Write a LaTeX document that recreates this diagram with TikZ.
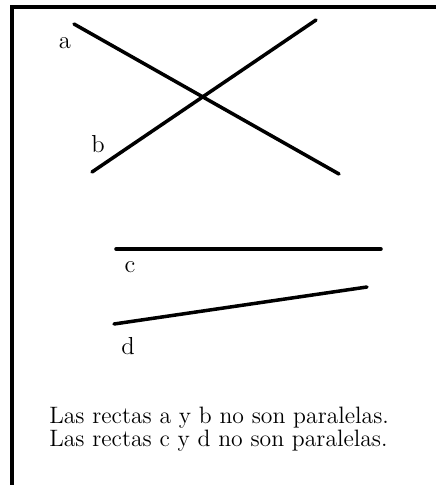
\documentclass[tikz,border=0pt]{standalone}
\usepackage{tikz}
\usetikzlibrary{positioning}

\begin{document}
\begin{tikzpicture}[
				x=0.02cm, y=-0.02cm,
				recta/.style={line width=2pt, line cap=round},
				marco/.style={line width=1.8pt},
				etiqueta/.style={font=\fontsize{14}{14}\selectfont, inner sep=0pt},
				texto/.style={font=\fontsize{13.5}{13.2}\selectfont, align=left, inner sep=0pt}
				]
				
				\useasboundingbox (0,0) rectangle (436,485);
				
				% marco
				\coordinate (esq) at (12,7);
				\coordinate (der) at (436,7);
				\coordinate (abajo) at (12,485);
				\draw[marco] (abajo) -- (esq) -- (der);
				
				% rectas que se cortan
				\coordinate (a1) at (74,24);
				\coordinate (a2) at (339,174);
				\coordinate (b1) at (92,172);
				\coordinate (b2) at (316,20);
				\draw[recta] (a1) -- (a2);
				\draw[recta] (b1) -- (b2);
				\node[etiqueta] (la) at (65,43) {a};
				\node[etiqueta] (lb) at (98,144) {b};
				
				% rectas c y d
				\coordinate (c1) at (116,249);
				\coordinate (c2) at (381,249);
				\coordinate (d1) at (114,324);
				\coordinate (d2) at (367,287);
				\draw[recta] (c1) -- (c2);
				\draw[recta] (d1) -- (d2);
				\node[etiqueta] (lc) at (130,267) {c};
				\node[etiqueta] (ld) at (128,346) {d};
				
				% texto
				\node[texto, anchor=west] (frase) at (49,429) {Las rectas a y b no son paralelas.\\Las rectas c y d no son paralelas.};
				
			\end{tikzpicture}
\end{document}
